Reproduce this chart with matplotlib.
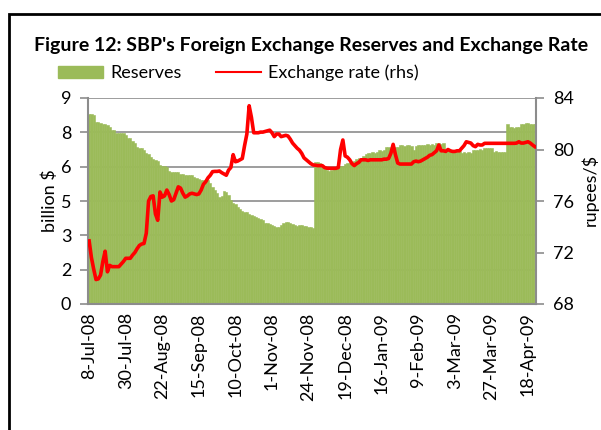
import matplotlib
matplotlib.use("Agg")
import matplotlib.pyplot as plt
from matplotlib.patches import Rectangle, Patch
from matplotlib.lines import Line2D

plt.rcParams["font.family"] = ["Lato", "DejaVu Sans"]

# daily series, 8-Jul-08 .. ~23-Apr-09 (one row per 16 observations)
reserves = [
    8.30, 8.29, 8.25, 7.97, 7.97, 7.90, 7.86, 7.86, 7.80, 7.75, 7.62, 7.60, 7.47, 7.47, 7.45, 7.47,
    7.40, 7.25, 7.25, 7.10, 7.03, 6.85, 6.80, 6.80, 6.75, 6.60, 6.55, 6.44, 6.35, 6.30, 6.25, 6.07,
    6.05, 6.02, 6.00, 5.80, 5.78, 5.78, 5.76, 5.78, 5.70, 5.66, 5.63, 5.65, 5.63, 5.62, 5.55, 5.50,
    5.45, 5.42, 5.42, 5.40, 5.40, 5.30, 5.12, 5.00, 4.85, 4.69, 4.70, 4.95, 4.90, 4.75, 4.55, 4.40,
    4.35, 4.25, 4.15, 4.05, 4.03, 4.00, 3.95, 3.90, 3.85, 3.81, 3.75, 3.70, 3.65, 3.55, 3.53, 3.50,
    3.45, 3.40, 3.38, 3.35, 3.45, 3.55, 3.60, 3.58, 3.52, 3.50, 3.45, 3.42, 3.45, 3.45, 3.42, 3.40,
    3.38, 3.35, 3.30, 6.22, 6.20, 6.15, 6.05, 5.95, 5.85, 5.80, 5.85, 5.90, 5.98, 5.98, 6.02, 6.05,
    6.10, 6.15, 6.15, 6.20, 6.25, 6.35, 6.37, 6.40, 6.45, 6.55, 6.61, 6.60, 6.62, 6.61, 6.65, 6.73,
    6.70, 6.75, 6.84, 6.85, 6.80, 6.86, 6.84, 6.84, 6.95, 6.93, 6.90, 6.95, 6.96, 6.90, 6.73, 6.92,
    6.95, 6.95, 6.93, 6.95, 6.97, 6.95, 7.00, 6.95, 7.02, 7.02, 7.00, 7.02, 6.75, 6.73, 6.70, 6.73,
    6.70, 6.73, 6.68, 6.61, 6.62, 6.60, 6.65, 6.61, 6.73, 6.75, 6.73, 6.78, 6.73, 6.80, 6.80, 6.82,
    6.80, 6.66, 6.68, 6.66, 6.65, 6.66, 6.66, 7.86, 7.75, 7.72, 7.70, 7.72, 7.75, 7.88, 7.85, 7.90,
    7.92, 7.88, 7.85, 7.86,
]
exchange_rate = [
    72.90, 71.60, 70.70, 69.90, 69.95, 70.25, 71.30, 72.10, 70.50, 71.00, 70.90, 70.90, 70.90, 70.90, 71.10, 71.30,
    71.55, 71.55, 71.55, 71.80, 72.00, 72.30, 72.55, 72.66, 72.70, 73.50, 76.00, 76.35, 76.40, 75.00, 74.50, 76.70,
    76.30, 76.40, 76.85, 76.50, 76.00, 76.10, 76.60, 77.10, 77.00, 76.60, 76.30, 76.40, 76.55, 76.60, 76.55, 76.50,
    76.55, 76.85, 77.30, 77.50, 77.80, 78.00, 78.28, 78.30, 78.30, 78.33, 78.20, 78.10, 78.00, 78.40, 78.60, 79.60,
    79.05, 79.10, 79.20, 79.30, 80.30, 81.20, 83.40, 82.50, 81.30, 81.30, 81.30, 81.35, 81.35, 81.40, 81.45, 81.50,
    81.30, 81.00, 81.20, 81.20, 81.00, 81.05, 81.10, 81.05, 80.80, 80.50, 80.30, 80.10, 79.95, 79.70, 79.35, 79.20,
    79.05, 78.90, 78.80, 78.78, 78.75, 78.75, 78.75, 78.60, 78.55, 78.54, 78.54, 78.54, 78.54, 78.60, 80.00, 80.74,
    79.50, 79.40, 79.20, 78.90, 78.75, 78.90, 79.00, 79.20, 79.20, 79.20, 79.15, 79.20, 79.20, 79.20, 79.20, 79.20,
    79.20, 79.25, 79.25, 79.30, 79.70, 80.40, 79.60, 78.95, 78.87, 78.87, 78.87, 78.87, 78.87, 78.87, 79.05, 79.10,
    79.05, 79.10, 79.20, 79.30, 79.40, 79.55, 79.60, 79.75, 79.90, 80.35, 79.90, 79.90, 79.85, 80.00, 79.90, 79.85,
    79.85, 79.90, 79.90, 80.10, 80.30, 80.60, 80.55, 80.50, 80.30, 80.22, 80.40, 80.35, 80.35, 80.48, 80.48, 80.48,
    80.48, 80.48, 80.48, 80.48, 80.48, 80.48, 80.48, 80.48, 80.48, 80.48, 80.48, 80.50, 80.60, 80.50, 80.50, 80.55,
    80.60, 80.50, 80.35, 80.22,
]
date_labels = ["8-Jul-08", "30-Jul-08", "22-Aug-08", "15-Sep-08", "10-Oct-08", "1-Nov-08",
               "24-Nov-08", "19-Dec-08", "16-Jan-09", "9-Feb-09", "3-Mar-09", "27-Mar-09", "18-Apr-09"]
left_ticks = [0, 1.5, 3, 4.5, 6, 7.5, 9]
left_labels = ["0", "2", "3", "5", "6", "8", "9"]
right_ticks = [68, 72, 76, 80, 84]

GREEN = "#9BBB59"
GRID = "#8C8C8C"
n = len(reserves)
assert n == len(exchange_rate)
idx = list(range(n))

fig = plt.figure(figsize=(6.01, 4.30), dpi=100)
ax = fig.add_axes([88 / 601, 1 - 304 / 430, 448 / 601, 206 / 430])
ax.bar(idx, reserves, width=1.0, color=GREEN, edgecolor=GREEN, linewidth=0.4, zorder=2)
ax.set_xlim(-0.5, n - 0.5)
ax.set_ylim(0, 9)
ax.set_yticks(left_ticks)
ax.set_yticklabels(left_labels, fontsize=13)
ax.set_xticks(idx[::16])
ax.set_xticklabels(date_labels, rotation=90, fontsize=13)
ax.tick_params(axis="x", length=0, pad=6)
ax.tick_params(axis="y", length=6, width=1.2, color=GRID, pad=6)
ax.set_axisbelow(True)
ax.grid(axis="y", color=GRID, lw=1.2)
for s in ("left", "bottom", "right"):
    ax.spines[s].set_color(GRID)
    ax.spines[s].set_linewidth(1.5)
ax.spines["top"].set_visible(False)
ax.set_ylabel("billion $", fontsize=13, labelpad=2)

ax2 = ax.twinx()
ax2.plot(idx, exchange_rate, color="red", lw=2.6, solid_joinstyle="round")
ax2.set_ylim(68, 84)
ax2.set_yticks(right_ticks)
ax2.set_yticklabels([str(t) for t in right_ticks], fontsize=13)
ax2.tick_params(axis="y", length=6, width=1.2, color=GRID, pad=6)
for s in ("left", "bottom", "right", "top"):
    ax2.spines[s].set_visible(False)
fig.text(581 / 601, 1 - 190 / 430, "rupees/$", rotation=90, fontsize=13, ha="left", va="center")

fig.text(311 / 601, 1 - 45 / 430, "Figure 12: SBP's Foreign Exchange Reserves and Exchange Rate",
         fontsize=14, fontweight="bold", ha="center", va="center")
handles = [Patch(color=GREEN), Line2D([], [], color="red", lw=1.5)]
fig.legend(handles, ["Reserves", "Exchange rate (rhs)"], loc="center left",
           bbox_to_anchor=(49 / 601, 1 - 73 / 430), ncol=2, frameon=False, fontsize=13,
           handlelength=2.5, handleheight=0.7, handletextpad=0.4, columnspacing=1.9, borderpad=0)

fig.patches.append(Rectangle((9 / 601, -0.1), 1.2, 1.1 - 14 / 430, transform=fig.transFigure,
                             fill=False, edgecolor="black", lw=2))
fig.savefig("out.png", dpi=100)
